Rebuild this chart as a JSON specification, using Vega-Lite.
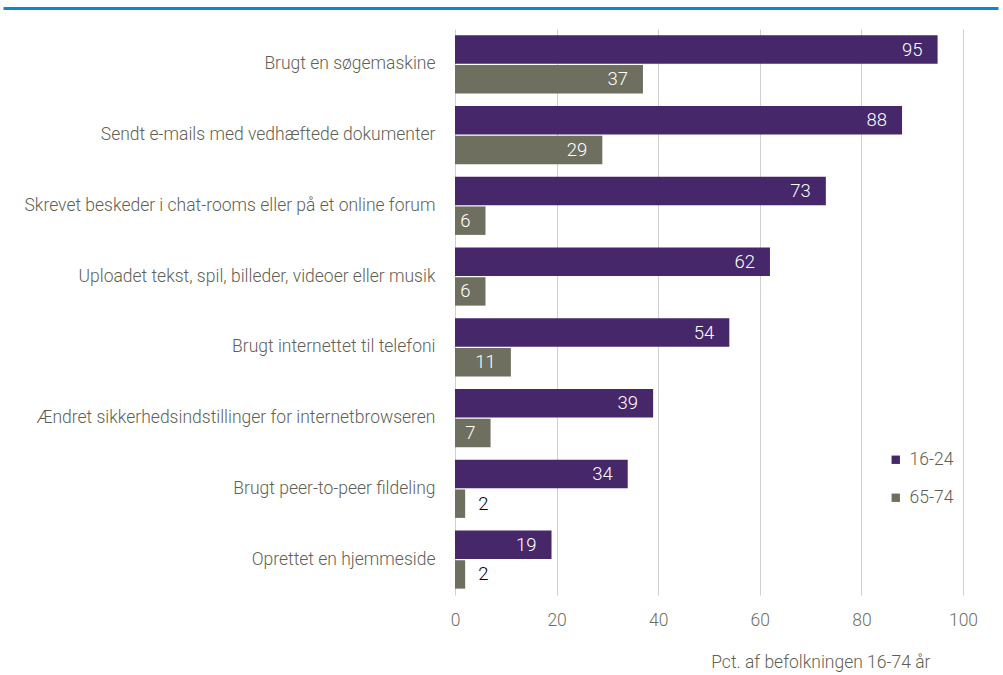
{
  "$schema": "https://vega.github.io/schema/vega-lite/v6.json",
  "autosize": {"type": "none"},
  "width": 508,
  "height": 566,
  "padding": {"left": 455, "top": 29, "right": 40, "bottom": 80},
  "background": "white",
  "config": {
    "font": "Roboto",
    "view": {"stroke": null}
  },
  "data": {
    "values": [
      {"category": "Brugt en søgemaskine", "group": "16-24", "value": 95},
      {"category": "Brugt en søgemaskine", "group": "65-74", "value": 37},
      {"category": "Sendt e-mails med vedhæftede dokumenter", "group": "16-24", "value": 88},
      {"category": "Sendt e-mails med vedhæftede dokumenter", "group": "65-74", "value": 29},
      {"category": "Skrevet beskeder i chat-rooms eller på et online forum", "group": "16-24", "value": 73},
      {"category": "Skrevet beskeder i chat-rooms eller på et online forum", "group": "65-74", "value": 6},
      {"category": "Uploadet tekst, spil, billeder, videoer eller musik", "group": "16-24", "value": 62},
      {"category": "Uploadet tekst, spil, billeder, videoer eller musik", "group": "65-74", "value": 6},
      {"category": "Brugt internettet til telefoni", "group": "16-24", "value": 54},
      {"category": "Brugt internettet til telefoni", "group": "65-74", "value": 11},
      {"category": "Ændret sikkerhedsindstillinger for internetbrowseren", "group": "16-24", "value": 39},
      {"category": "Ændret sikkerhedsindstillinger for internetbrowseren", "group": "65-74", "value": 7},
      {"category": "Brugt peer-to-peer fildeling", "group": "16-24", "value": 34},
      {"category": "Brugt peer-to-peer fildeling", "group": "65-74", "value": 2},
      {"category": "Oprettet en hjemmeside", "group": "16-24", "value": 19},
      {"category": "Oprettet en hjemmeside", "group": "65-74", "value": 2}
    ]
  },
  "layer": [
    {
      "encoding": {
        "y": {
          "field": "category",
          "type": "nominal",
          "sort": null,
          "scale": {"paddingInner": 0.18, "paddingOuter": 0.09},
          "axis": {
            "title": null,
            "ticks": false,
            "domain": false,
            "labelFontSize": 17.5,
            "labelFontWeight": 300,
            "labelColor": "#5f5f55",
            "labelPadding": 20,
            "labelLimit": 500
          }
        },
        "yOffset": {
          "field": "group",
          "type": "nominal",
          "sort": ["16-24", "65-74"],
          "scale": {"paddingInner": 0.04}
        },
        "x": {
          "field": "value",
          "type": "quantitative",
          "scale": {"domain": [0, 100]},
          "axis": {
            "values": [0, 20, 40, 60, 80, 100],
            "grid": true,
            "gridColor": "#d0d0cc",
            "gridWidth": 1,
            "domain": false,
            "ticks": false,
            "labelFlush": false,
            "labelFontSize": 17.5,
            "labelFontWeight": 300,
            "labelColor": "#6f6f62",
            "labelPadding": 16,
            "title": "Pct. af  befolkningen 16-74 år",
            "titleFontSize": 17.5,
            "titleFontWeight": 300,
            "titleColor": "#5f5f55",
            "titleAlign": "right",
            "titleBaseline": "middle",
            "titleX": 475,
            "titleY": 67
          }
        }
      },
      "layer": [
        {
          "mark": {"type": "bar"},
          "encoding": {
            "color": {
              "field": "group",
              "type": "nominal",
              "scale": {"domain": ["16-24", "65-74"], "range": ["#46276a", "#6f6f5f"]},
              "legend": {
                "title": null,
                "orient": "none",
                "legendX": 432,
                "legendY": 422,
                "symbolType": "square",
                "symbolSize": 70,
                "labelFontSize": 17.5,
                "labelFontWeight": 300,
                "labelColor": "#5f5f55",
                "rowPadding": 19,
                "labelOffset": 5,
                "padding": 0
              }
            }
          }
        },
        {
          "transform": [{"filter": "datum.value > 5"}],
          "mark": {"type": "text", "align": "right", "baseline": "middle", "dx": -15, "fontSize": 18.5, "fontWeight": 300, "color": "white"},
          "encoding": {"text": {"field": "value", "type": "quantitative"}}
        },
        {
          "transform": [{"filter": "datum.value <= 5"}],
          "mark": {"type": "text", "align": "left", "baseline": "middle", "dx": 13, "fontSize": 18.5, "fontWeight": 300, "color": "black"},
          "encoding": {"text": {"field": "value", "type": "quantitative"}}
        }
      ]
    },
    {
      "mark": {"type": "rule", "opacity": 0},
      "encoding": {
        "x": {
          "field": "value",
          "type": "quantitative",
          "scale": {"domain": [0, 100], "range": [-452, 543]},
          "axis": {
            "orient": "top",
            "domain": true,
            "domainColor": "#0a8ac8",
            "domainWidth": 3,
            "ticks": false,
            "labels": false,
            "grid": false,
            "title": null,
            "offset": 21
          }
        }
      }
    }
  ],
  "resolve": {"scale": {"x": "independent"}, "axis": {"x": "independent"}}
}
